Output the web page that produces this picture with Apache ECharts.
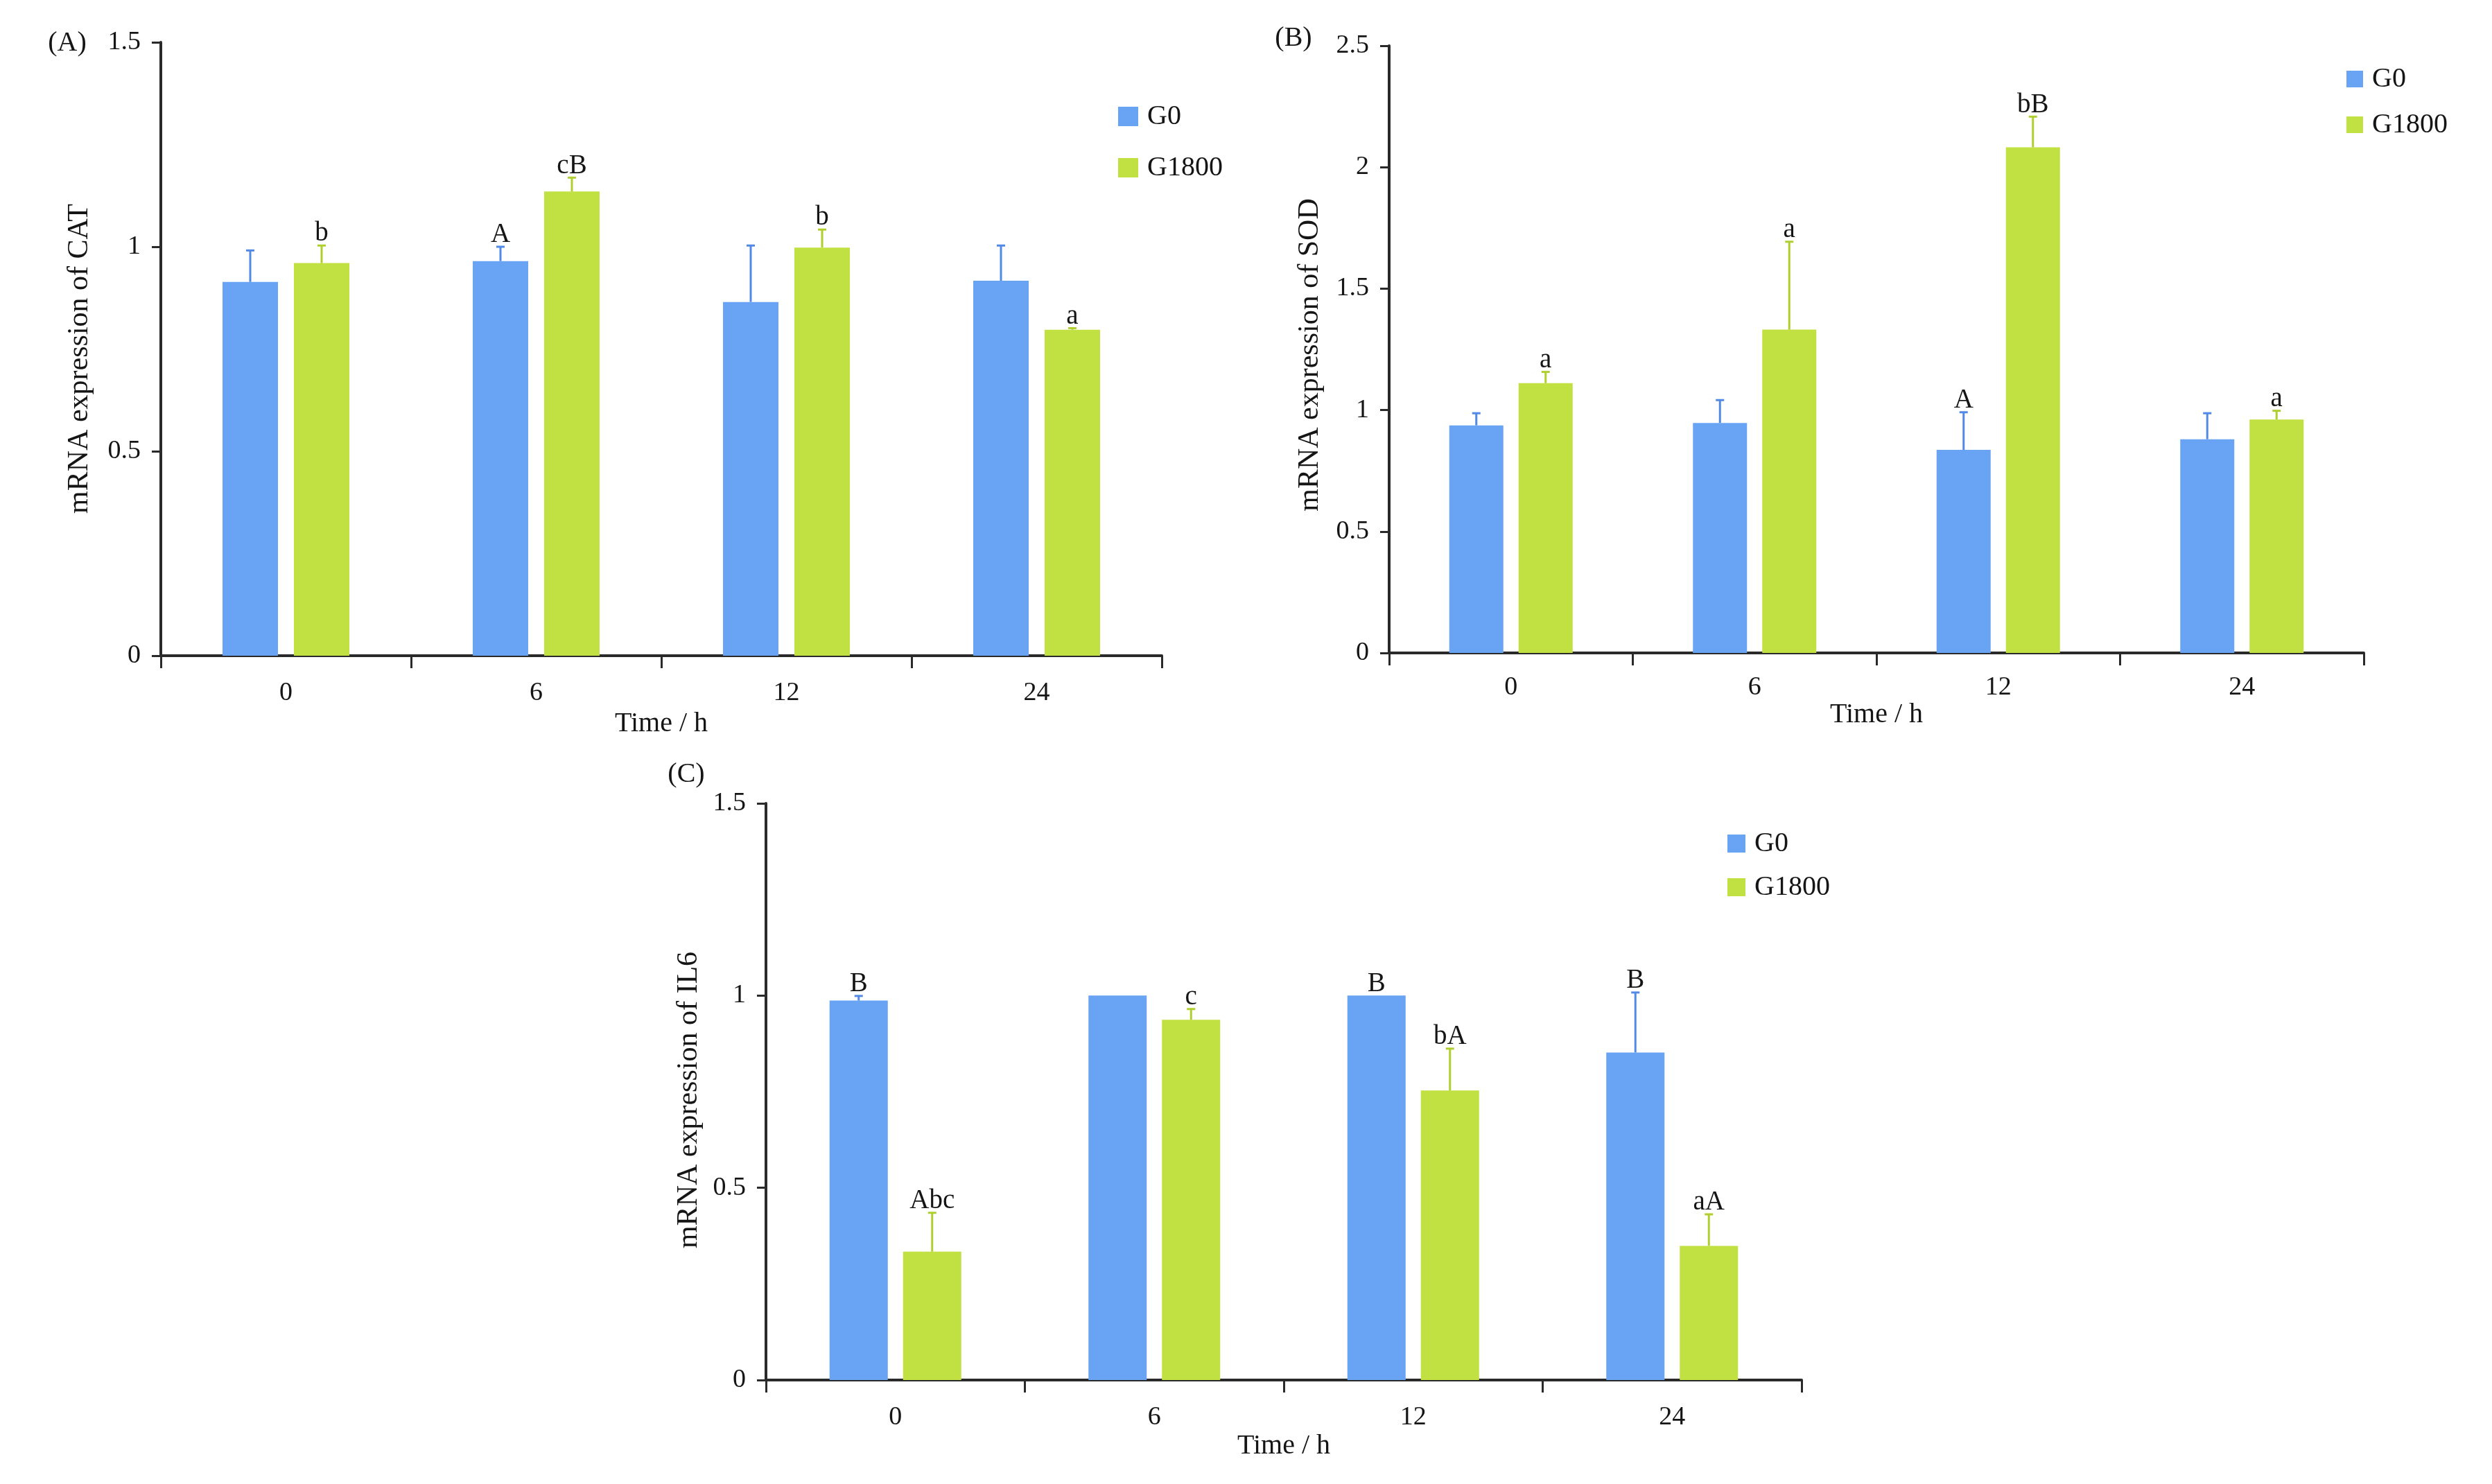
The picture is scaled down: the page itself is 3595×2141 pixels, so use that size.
<!DOCTYPE html>
<html>
<head>
<meta charset="utf-8">
<script src="https://cdn.jsdelivr.net/npm/echarts@6/dist/echarts.min.js"></script>
<style>html,body{margin:0;padding:0;background:#fff}#c{width:3595px;height:2141px}</style>
</head>
<body>
<div id="c"></div>
<script>
// ---------- data ----------
const categories = ['0', '6', '12', '24'];
const groupNames = ['G0', 'G1800'];

// (A) CAT
const catG0 = [0.914, 0.965, 0.865, 0.917];
const catG0Sd = [0.077, 0.035, 0.138, 0.086];
const catG0Sig = ['', 'A', '', ''];
const catG1800 = [0.960, 1.135, 0.998, 0.797];
const catG1800Sd = [0.043, 0.034, 0.044, 0.004];
const catG1800Sig = ['b', 'cB', 'b', 'a'];

// (B) SOD
const sodG0 = [0.937, 0.947, 0.836, 0.880];
const sodG0Sd = [0.050, 0.094, 0.155, 0.107];
const sodG0Sig = ['', '', 'A', ''];
const sodG1800 = [1.111, 1.331, 2.082, 0.961];
const sodG1800Sd = [0.046, 0.362, 0.126, 0.036];
const sodG1800Sig = ['a', 'a', 'bB', 'a'];

// (C) IL6
const il6G0 = [0.987, 1.000, 1.000, 0.852];
const il6G0Sd = [0.012, 0.000, 0.000, 0.156];
const il6G0Sig = ['B', '', 'B', 'B'];
const il6G1800 = [0.334, 0.937, 0.753, 0.349];
const il6G1800Sd = [0.101, 0.028, 0.109, 0.082];
const il6G1800Sig = ['Abc', 'c', 'bA', 'aA'];

// axis ranges / tick steps
const yMaxA = 1.5, yMaxB = 2.5, yMaxC = 1.5, yStep = 0.5;
const yTitles = ['mRNA expression of CAT', 'mRNA expression of SOD', 'mRNA expression of IL6'];
const xTitle = 'Time / h';
const panelTags = ['(A)', '(B)', '(C)'];

// ---------- styling ----------
const FONT = '"Liberation Serif", "Times New Roman", serif';
const BLUE = '#69a3f4', GREEN = '#c1e042';
const BLUE_ERR = '#5189e6', GREEN_ERR = '#aecf2e';
const TXT = '#151515';
const AX = '#2a2a2a';

const grids = [
  { left: 232, top: 61, width: 1444, height: 885, barW: 80, gap: 23 },
  { left: 2004, top: 66, width: 1406, height: 876, barW: 78, gap: 22 },
  { left: 1105, top: 1159, width: 1494, height: 832, barW: 84, gap: 22 }
];
const yMaxes = [yMaxA, yMaxB, yMaxC];
const xLabelMargins = [35, 31, 35];
const xNameGaps = [78, 68, 75];
const yNameGaps = [96, 93, 90];
const yNameShift = [28, 16, 24];

const panels = [
  { g0: catG0, g0sd: catG0Sd, g0sig: catG0Sig, g1: catG1800, g1sd: catG1800Sd, g1sig: catG1800Sig },
  { g0: sodG0, g0sd: sodG0Sd, g0sig: sodG0Sig, g1: sodG1800, g1sd: sodG1800Sd, g1sig: sodG1800Sig },
  { g0: il6G0, g0sd: il6G0Sd, g0sig: il6G0Sig, g1: il6G1800, g1sd: il6G1800Sd, g1sig: il6G1800Sig }
];

function errSeries(gi, values, sds, sigs, sign, color) {
  const g = grids[gi];
  return {
    type: 'custom',
    xAxisIndex: gi, yAxisIndex: gi, z: 5, silent: true,
    data: values.map((v, i) => [i, v, v + sds[i]]),
    renderItem(params, api) {
      const i = api.value(0);
      const base = api.coord([i, api.value(1)]);
      const top = api.coord([i, api.value(2)]);
      const x = base[0] + sign * (g.barW / 2 + g.gap / 2);
      const children = [];
      if (base[1] - top[1] > 1) {
        children.push({ type: 'line', shape: { x1: x, y1: base[1], x2: x, y2: top[1] },
          style: { stroke: color, lineWidth: 3 } });
        children.push({ type: 'line', shape: { x1: x - 6, y1: top[1], x2: x + 6, y2: top[1] },
          style: { stroke: color, lineWidth: 3 } });
      }
      const s = sigs[params.dataIndex];
      if (s) {
        children.push({ type: 'text', x: x, y: Math.min(top[1], base[1]) - 17,
          style: { text: s, fill: TXT, font: '39px ' + FONT, align: 'center', verticalAlign: 'middle' } });
      }
      return { type: 'group', children };
    }
  };
}

const option = {
  backgroundColor: '#ffffff',
  animation: false,
  textStyle: { fontFamily: FONT },
  grid: grids.map(g => ({ left: g.left, top: g.top, width: g.width, height: g.height, containLabel: false })),
  xAxis: grids.map((g, gi) => ({
    type: 'category', gridIndex: gi, data: categories,
    axisLine: { show: true, lineStyle: { color: AX, width: 4 } },
    axisTick: { show: true, length: 18, lineStyle: { color: AX, width: 3 } },
    axisLabel: { margin: xLabelMargins[gi], fontSize: 38, color: TXT, fontFamily: FONT },
    splitLine: { show: false },
    name: xTitle, nameLocation: 'middle', nameGap: xNameGaps[gi],
    nameTextStyle: { fontSize: 40, color: TXT, fontFamily: FONT }
  })),
  yAxis: grids.map((g, gi) => ({
    type: 'value', gridIndex: gi, min: 0, max: yMaxes[gi], interval: yStep,
    axisLine: { show: true, lineStyle: { color: AX, width: 4 } },
    axisTick: { show: true, length: 13, lineStyle: { color: AX, width: 3 } },
    axisLabel: { margin: 29, fontSize: 38, color: TXT, fontFamily: FONT },
    splitLine: { show: false },
    name: yTitles[gi], nameLocation: 'middle', nameGap: yNameGaps[gi],
    nameTextStyle: { fontSize: 42, color: TXT, fontFamily: FONT, padding: [0, yNameShift[gi], 0, 0] }
  })),
  legend: [
    { left: 1608, top: 143, itemWidth: 29, itemHeight: 28, itemGap: 34 },
    { left: 3380, top: 89, itemWidth: 24, itemHeight: 24, itemGap: 26 },
    { left: 2487, top: 1192, itemWidth: 26, itemHeight: 26, itemGap: 23 }
  ].map(l => Object.assign({
    orient: 'vertical', icon: 'rect', data: groupNames, selectedMode: false,
    textStyle: { fontSize: 40, color: TXT, fontFamily: FONT, padding: [0, 0, 0, 8] }
  }, l)),
  graphic: [
    { type: 'text', x: 97, y: 62, style: { text: panelTags[0], font: '40px ' + FONT, fill: TXT, align: 'center', verticalAlign: 'middle' } },
    { type: 'text', x: 1866, y: 55, style: { text: panelTags[1], font: '40px ' + FONT, fill: TXT, align: 'center', verticalAlign: 'middle' } },
    { type: 'text', x: 990, y: 1117, style: { text: panelTags[2], font: '40px ' + FONT, fill: TXT, align: 'center', verticalAlign: 'middle' } }
  ],
  series: []
};

panels.forEach((p, gi) => {
  const g = grids[gi];
  const gapPct = (g.gap / g.barW * 100).toFixed(1) + '%';
  option.series.push({ type: 'bar', name: groupNames[0], xAxisIndex: gi, yAxisIndex: gi,
    data: p.g0, barWidth: g.barW, barGap: gapPct, itemStyle: { color: BLUE } });
  option.series.push({ type: 'bar', name: groupNames[1], xAxisIndex: gi, yAxisIndex: gi,
    data: p.g1, barWidth: g.barW, barGap: gapPct, itemStyle: { color: GREEN } });
  option.series.push(errSeries(gi, p.g0, p.g0sd, p.g0sig, -1, BLUE_ERR));
  option.series.push(errSeries(gi, p.g1, p.g1sd, p.g1sig, 1, GREEN_ERR));
});

const chart = echarts.init(document.getElementById('c'), null, { renderer: 'canvas' });
chart.setOption(option);
</script>
</body>
</html>
